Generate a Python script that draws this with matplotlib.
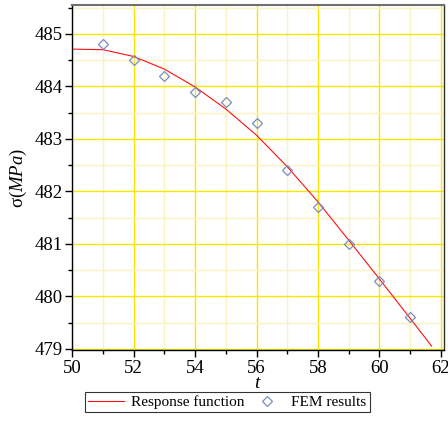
import numpy as np
import matplotlib.pyplot as plt
from matplotlib.ticker import MultipleLocator

plt.rcParams['font.family'] = ['Liberation Serif', 'DejaVu Serif']
plt.rcParams['mathtext.fontset'] = 'custom'
plt.rcParams['mathtext.rm'] = 'Liberation Serif'
plt.rcParams['mathtext.it'] = 'Liberation Serif:italic'

# 响应函数曲线
t_curve = [50, 51, 52, 53, 54, 55, 56, 57, 58, 59, 60, 61, 61.7]
sigma_curve = [484.71, 484.70, 484.57, 484.33, 483.99, 483.57, 483.07,
               482.47, 481.80, 481.07, 480.33, 479.58, 479.05]

# 有限元结果
t_fem = [51, 52, 53, 54, 55, 56, 57, 58, 59, 60, 61]
sigma_fem = [484.8, 484.5, 484.2, 483.9, 483.7, 483.3, 482.4, 481.7, 481.0, 480.3, 479.6]

fig = plt.figure(figsize=(4.48, 4.22), dpi=100)
ax = fig.add_axes([0.161, 0.171, 0.830, 0.817])

ax.plot(t_curve, sigma_curve, color='#ff1010', lw=0.8, label='Response function')
ax.plot(t_fem, sigma_fem, ls='none', marker='D', ms=5, mfc='none',
        mec='#7a8cc8', mew=0.9, label='FEM results')

ax.set_xlim(50, 62.1)
ax.set_ylim(478.98, 485.55)
ax.xaxis.set_major_locator(MultipleLocator(2))
ax.xaxis.set_minor_locator(MultipleLocator(1))
ax.yaxis.set_major_locator(MultipleLocator(1))
ax.yaxis.set_minor_locator(MultipleLocator(0.5))

ax.grid(which='major', color='#f6e600', lw=1.0)
ax.grid(which='minor', color='#fbf4c0', lw=1.0)
ax.set_axisbelow(True)

ax.tick_params(which='major', direction='out', length=5, width=1, labelsize=13.5, pad=2)
ax.tick_params(which='minor', direction='out', length=3, width=1)
ax.tick_params(top=False, right=False)

for s in ['left', 'bottom']:
    ax.spines[s].set_color('black')
    ax.spines[s].set_linewidth(1.0)
ax.spines['top'].set_color('#707070')
ax.spines['top'].set_linewidth(1.5)
ax.spines['right'].set_color('#303030')
ax.spines['right'].set_linewidth(1.0)

ax.set_xlabel(r'$t$', fontsize=14, labelpad=-1)
ax.set_ylabel(r'$\mathrm{\sigma}(\mathit{MPa})$', fontsize=13.5, labelpad=4)

leg = fig.legend(loc='lower center', bbox_to_anchor=(0.507, 0.005), ncol=2,
                 fontsize=11, frameon=True, fancybox=False, edgecolor='black',
                 handlelength=2.4, columnspacing=0.3, borderpad=0.2,
                 handletextpad=0.4)
leg.get_frame().set_linewidth(0.8)

fig.savefig('out.png', dpi=100)
